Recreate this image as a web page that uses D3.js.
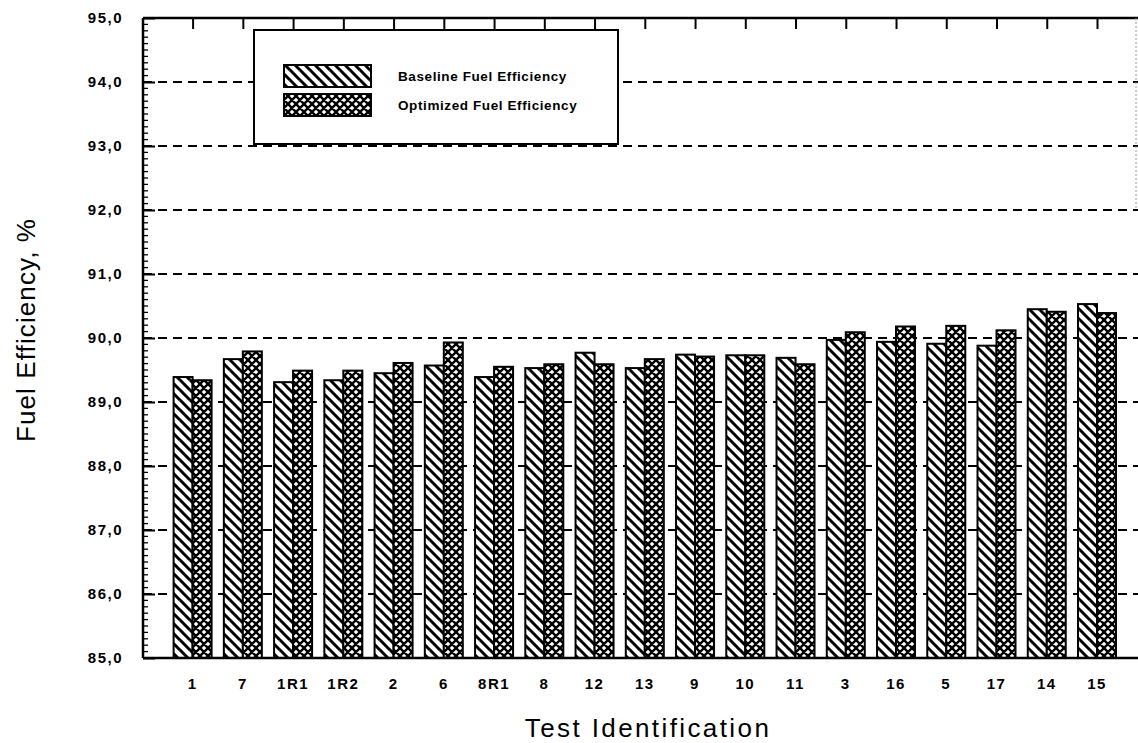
<!DOCTYPE html>
<html>
<head>
<meta charset="utf-8">
<script src="https://cdn.jsdelivr.net/npm/d3@7/dist/d3.min.js"></script>
<style>
  html, body { margin: 0; padding: 0; background: #fff; }
  svg { display: block; }
</style>
</head>
<body>
<svg id="chart" width="1138" height="743"></svg>
<script>
// Test identifiers along the x axis
const categories = ["1","7","1R1","1R2","2","6","8R1","8","12","13","9","10","11","3","16","5","17","14","15"];
// Fuel efficiency, %
const baseline  = [89.39, 89.67, 89.31, 89.34, 89.45, 89.57, 89.39, 89.53, 89.77, 89.53, 89.74, 89.73, 89.69, 89.97, 89.94, 89.91, 89.88, 90.45, 90.53];
const optimized = [89.34, 89.79, 89.49, 89.49, 89.61, 89.93, 89.55, 89.59, 89.59, 89.67, 89.71, 89.73, 89.59, 90.09, 90.18, 90.19, 90.12, 90.41, 90.39];
const yTicks = [85, 86, 87, 88, 89, 90, 91, 92, 93, 94, 95];
const seriesNames = ["Baseline Fuel Efficiency", "Optimized Fuel Efficiency"];

const svg = d3.select("#chart");
const plotLeft = 143, plotRight = 1136, plotTop = 18, plotBottom = 658;
const font = "Liberation Sans, Arial, sans-serif";

const x = d3.scalePoint().domain(categories).range([192.6, 1097]);
const y = d3.scaleLinear().domain([85, 95]).range([plotBottom, plotTop]);
const barW = 19;

// Hatch patterns
const defs = svg.append("defs");
const diag = defs.append("pattern").attr("id", "hatchBase")
  .attr("patternUnits", "userSpaceOnUse").attr("width", 10).attr("height", 10);
diag.append("rect").attr("width", 10).attr("height", 10).attr("fill", "#fff");
diag.append("path").attr("d", "M0,0L10,10M-10,0L0,10M0,-10L10,0M10,0L20,10M0,10L10,20")
  .attr("stroke", "#000").attr("stroke-width", 3);

const cross = defs.append("pattern").attr("id", "hatchOpt")
  .attr("patternUnits", "userSpaceOnUse").attr("width", 8).attr("height", 8);
cross.append("rect").attr("width", 8).attr("height", 8).attr("fill", "#fff");
cross.append("path").attr("d", "M0,0L8,8M-8,0L0,8M0,-8L8,0M8,0L16,8M0,8L8,16M0,8L8,0M-8,8L0,0M8,8L16,0M0,16L8,8M0,0L8,-8")
  .attr("stroke", "#000").attr("stroke-width", 2.4);

// Dashed gridlines
svg.append("g").selectAll("line")
  .data(yTicks.filter(t => t > 85 && t < 95))
  .join("line")
  .attr("x1", plotLeft).attr("x2", plotRight + 2)
  .attr("y1", d => y(d)).attr("y2", d => y(d))
  .attr("stroke", "#000").attr("stroke-width", 2)
  .attr("stroke-dasharray", "9,6");

// Bars
const rows = categories.map((c, i) => ({ c, b: baseline[i], o: optimized[i] }));
const g = svg.append("g");
g.selectAll("rect.base").data(rows).join("rect").attr("class", "base")
  .attr("x", d => x(d.c) - barW).attr("width", barW)
  .attr("y", d => y(d.b)).attr("height", d => y(85) - y(d.b))
  .attr("fill", "url(#hatchBase)").attr("stroke", "#000").attr("stroke-width", 2);
g.selectAll("rect.opt").data(rows).join("rect").attr("class", "opt")
  .attr("x", d => x(d.c)).attr("width", barW)
  .attr("y", d => y(d.o)).attr("height", d => y(85) - y(d.o))
  .attr("fill", "url(#hatchOpt)").attr("stroke", "#000").attr("stroke-width", 2);

// Frame: left axis, bottom axis, top line, faint right edge
svg.append("line").attr("x1", plotLeft).attr("x2", plotLeft).attr("y1", plotTop).attr("y2", plotBottom)
  .attr("stroke", "#000").attr("stroke-width", 2.5);
svg.append("line").attr("x1", plotLeft).attr("x2", plotRight + 2).attr("y1", plotBottom).attr("y2", plotBottom)
  .attr("stroke", "#000").attr("stroke-width", 2.5);
svg.append("line").attr("x1", plotLeft).attr("x2", plotRight + 2).attr("y1", plotTop).attr("y2", plotTop)
  .attr("stroke", "#000").attr("stroke-width", 2.5);
svg.append("line").attr("x1", plotRight).attr("x2", plotRight).attr("y1", plotTop).attr("y2", 210)
  .attr("stroke", "#999").attr("stroke-width", 1).attr("stroke-dasharray", "2,2");

// Left axis: major ticks and minor ticks every 0.1, drawn inward
const minor = d3.range(850, 951).map(v => v / 10);
svg.append("g").selectAll("line").data(minor).join("line")
  .attr("x1", plotLeft).attr("x2", plotLeft + 5)
  .attr("y1", d => y(d)).attr("y2", d => y(d))
  .attr("stroke", "#000").attr("stroke-width", 1.3);
const yAxis = d3.axisRight(y).tickValues(yTicks).tickSize(12).tickFormat(() => "");
svg.append("g").attr("transform", `translate(${plotLeft},0)`).call(yAxis)
  .call(s => s.select(".domain").remove())
  .call(s => s.selectAll(".tick line").attr("stroke-width", 2));

// Y tick labels
svg.append("g").selectAll("text").data(yTicks).join("text")
  .attr("x", 123).attr("y", d => y(d)).attr("dy", "0.35em")
  .attr("text-anchor", "end")
  .attr("font-family", font)
  .attr("font-size", 15).attr("font-weight", "bold")
  .attr("letter-spacing", 1.5)
  .text(d => d3.format(".1f")(d).replace(".", ","));

// Top axis ticks at group centres, pointing down
const xTop = d3.axisBottom(x).tickSize(11).tickFormat(() => "");
svg.append("g").attr("transform", `translate(0,${plotTop})`).call(xTop)
  .call(s => s.select(".domain").remove())
  .call(s => s.selectAll(".tick line").attr("stroke-width", 2));

// X category labels
svg.append("g").selectAll("text").data(categories).join("text")
  .attr("x", d => x(d)).attr("y", 689)
  .attr("text-anchor", "middle")
  .attr("font-family", font)
  .attr("font-size", 15).attr("font-weight", "bold")
  .attr("letter-spacing", 1.5)
  .text(d => d);

// Axis titles
svg.append("text").attr("x", 648).attr("y", 737)
  .attr("text-anchor", "middle")
  .attr("font-family", font)
  .attr("font-size", 26).attr("letter-spacing", 2.4)
  .text("Test Identification");
svg.append("text")
  .attr("transform", "translate(35,330) rotate(-90)")
  .attr("text-anchor", "middle")
  .attr("font-family", font)
  .attr("font-size", 26).attr("letter-spacing", 1.1)
  .text("Fuel Efficiency, %");

// Legend
const lg = svg.append("g");
lg.append("rect").attr("x", 254).attr("y", 30).attr("width", 364).attr("height", 114)
  .attr("fill", "#fff").attr("stroke", "#000").attr("stroke-width", 2);
const fills = ["url(#hatchBase)", "url(#hatchOpt)"];
const legendY = [65, 94];
seriesNames.forEach((name, i) => {
  lg.append("rect").attr("x", 284).attr("y", legendY[i]).attr("width", 87).attr("height", 22)
    .attr("fill", fills[i]).attr("stroke", "#000").attr("stroke-width", 2);
  lg.append("text").attr("x", 398).attr("y", legendY[i] + 11).attr("dy", "0.35em")
    .attr("font-family", font)
    .attr("font-size", 13.5).attr("font-weight", "bold")
    .attr("letter-spacing", 0.6)
    .text(name);
});
</script>
</body>
</html>
